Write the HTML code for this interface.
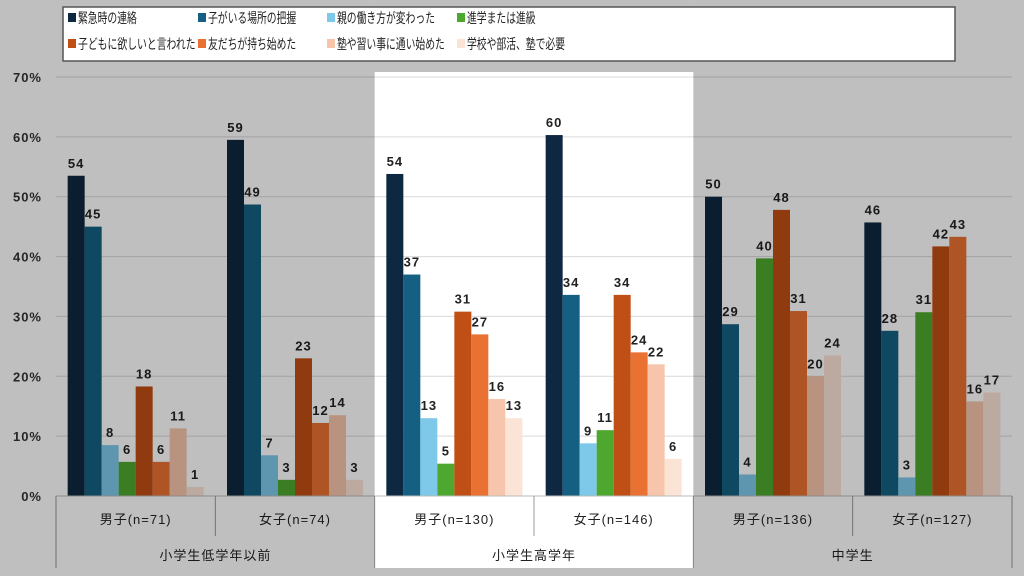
<!DOCTYPE html>
<html><head><meta charset="utf-8"><style>
body{margin:0;background:#bfbfbf;}
svg{display:block;font-family:"Liberation Sans","Noto Sans CJK JP",sans-serif;}
</style></head><body>
<svg id="c" width="1024" height="576"></svg>
<script>
const series=["緊急時の連絡","子がいる場所の把握","親の働き方が変わった","進学または進級","子どもに欲しいと言われた","友だちが持ち始めた","塾や習い事に通い始めた","学校や部活、塾で必要"];
const colors=["#0e2841","#156082","#7ec8ea","#4ea72e","#c04f15","#e97132","#f6c5ab","#fbe3d6"];
const subgroups=["男子(n=71)","女子(n=74)","男子(n=130)","女子(n=146)","男子(n=136)","女子(n=127)"];
const groups=["小学生低学年以前","小学生高学年","中学生"];
const values=[
[53.5,45,8.5,5.7,18.3,5.7,11.3,1.5],
[59.5,48.7,6.8,2.7,23,12.2,13.5,2.7],
[53.8,37,13,5.4,30.8,27,16.2,13],
[60.3,33.6,8.8,11,33.6,24,22,6.2],
[50,28.7,3.6,39.7,47.8,30.9,20,23.5],
[45.7,27.6,3.1,30.7,41.7,43.3,15.8,17.3]];
const labels=[
[54,45,8,6,18,6,11,1],
[59,49,7,3,23,12,14,3],
[54,37,13,5,31,27,16,13],
[60,34,9,11,34,24,22,6],
[50,29,4,40,48,31,20,24],
[46,28,3,31,42,43,16,17]];
const yTicks=[0,10,20,30,40,50,60,70];
const NS="http://www.w3.org/2000/svg";
const svg=document.getElementById('c');
function mk(t,a,p){const e=document.createElementNS(NS,t);for(const k in a)e.setAttribute(k,a[k]);(p||svg).appendChild(e);return e;}
const x0=56,x1=1012,yb=496,yt=77;
const y=v=>yb-(v/70)*(yb-yt);
const sw=(x1-x0)/6,bw=17;
mk('rect',{x:0,y:0,width:1024,height:576,fill:'#fff'});
yTicks.forEach(t=>{
 const l=mk('line',{x1:x0,x2:x1,y1:y(t),y2:y(t),stroke:'#d9d9d9','stroke-width':1});
 
 
 const tx=mk('text',{x:42,y:y(t)+5,'text-anchor':'end','font-size':13,'font-weight':'bold',fill:'#333','letter-spacing':'1'});
 tx.textContent=t+'%';
 
 
});
values.forEach((vals,g)=>{
 const start=x0+g*sw+(sw-bw*8)/2;
 vals.forEach((v,s)=>{
  const r=mk('rect',{x:start+s*bw,y:y(v),width:bw,height:yb-y(v),fill:colors[s]});
  
  
  const t=mk('text',{x:start+s*bw+bw/2,y:y(v)-8,'text-anchor':'middle','font-size':13,'font-weight':'bold',fill:'#222','letter-spacing':'1'});
  t.textContent=labels[g][s];
  
  
 });
 const sl=mk('text',{x:x0+g*sw+sw/2,y:524,'text-anchor':'middle','font-size':13,fill:'#222','letter-spacing':'1'});
 sl.textContent=subgroups[g];
 
 
});
mk('line',{x1:x0,x2:x1,y1:yb,y2:yb,stroke:'#bbb'});
for(let i=0;i<=6;i++){
 const xx=x0+i*sw;
 mk('line',{x1:xx,x2:xx,y1:yb,y2:i%2==0?568:536,stroke:'#999'});
}
groups.forEach((gname,i)=>{
 const t=mk('text',{x:x0+(2*i+1)*sw,y:560,'text-anchor':'middle','font-size':13,fill:'#222','letter-spacing':'1'});
 t.textContent=gname;
 
 
});
const gx1=x0+2*sw,gx2=x0+4*sw;
mk('rect',{x:0,y:0,width:gx1,height:576,fill:'rgba(0,0,0,0.25)'});
mk('rect',{x:gx2,y:0,width:1024-gx2,height:576,fill:'rgba(0,0,0,0.25)'});
mk('rect',{x:gx1,y:0,width:gx2-gx1,height:72,fill:'rgba(0,0,0,0.25)'});
mk('rect',{x:gx1,y:568,width:gx2-gx1,height:8,fill:'rgba(0,0,0,0.25)'});
const lg=mk('g',{});


mk('rect',{x:63,y:7,width:892,height:54,fill:'#fff',stroke:'#555','stroke-width':1.5},lg);
const colX=[68,198,327,457];
series.forEach((s,i)=>{
 const cx=colX[i%4],cy=i<4?18:44;
 const e=mk('g',{},lg);
 
 
 mk('rect',{x:cx,y:cy-5,width:8,height:9,fill:colors[i]},e);
 const t=mk('text',{x:cx+10,y:cy+5,'font-size':14,fill:'#222',textLength:s.length*9.8,lengthAdjust:'spacingAndGlyphs'},e);
 t.textContent=s;
});
</script>
</body></html>
